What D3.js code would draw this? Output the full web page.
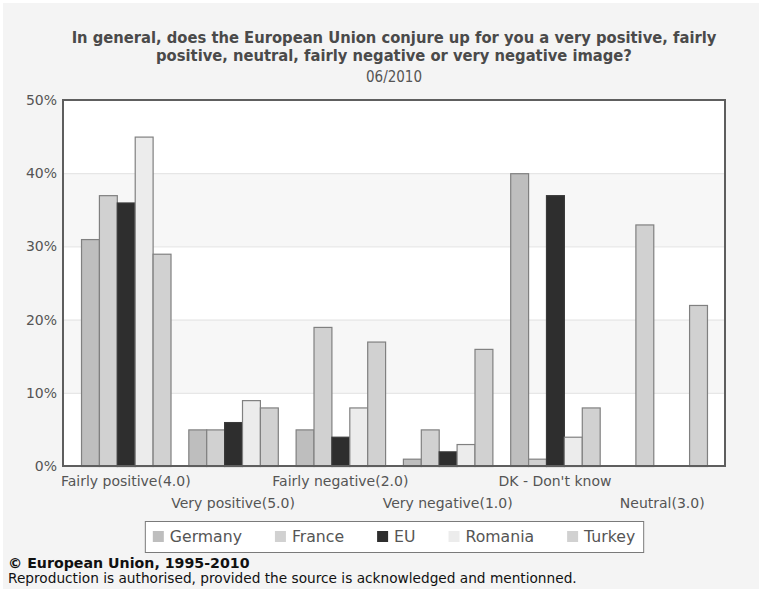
<!DOCTYPE html>
<html>
<head>
<meta charset="utf-8">
<script src="https://cdn.jsdelivr.net/npm/d3@7"></script>
<style>
  body { margin: 0; background: #fff; }
  svg { display: block; }
</style>
</head>
<body>
<svg id="chart" width="759" height="589"></svg>
<script>
// Eurobarometer answers, share of respondents (%)
const categories = ["Fairly positive(4.0)", "Very positive(5.0)", "Fairly negative(2.0)",
                    "Very negative(1.0)", "DK - Don't know", "Neutral(3.0)"];
const seriesNames = ["Germany", "France", "EU", "Romania", "Turkey"];
const germany = [31, 5, 5, 1, 40, null];
const france  = [37, 5, 19, 5, 1, 33];
const eu      = [36, 6, 4, 2, 37, null];
const romania = [45, 9, 8, 3, 4, null];
const turkey  = [29, 8, 17, 16, 8, 22];
const yTicks  = [0, 10, 20, 30, 40, 50];

const titleLines = ["In general, does the European Union conjure up for you a very positive, fairly",
                    "positive, neutral, fairly negative or very negative image?"];
const subtitle = "06/2010";
const credit = "\u00A9 European Union, 1995-2010";
const notice = "Reproduction is authorised, provided the source is acknowledged and mentionned.";

const seriesValues = [germany, france, eu, romania, turkey];
const fills = { Germany: "#bebebe", France: "#d1d1d1", EU: "#2e2e2e", Romania: "#ececec", Turkey: "#d1d1d1" };

const W = 759, H = 589;
const plot = { left: 63, right: 725, top: 100, bottom: 466 };
const sans = "'DejaVu Sans', Verdana, sans-serif";
const condensed = "'DejaVu Sans Condensed', 'DejaVu Sans', sans-serif";

const svg = d3.select("#chart");

// page background
svg.append("rect").attr("width", W).attr("height", H).attr("fill", "#fff");
svg.append("rect").attr("x", 3).attr("y", 3).attr("width", W - 3).attr("height", H - 3).attr("fill", "#f4f4f4");

const x0 = d3.scaleBand().domain(categories).range([plot.left, plot.right])
  .paddingInner(0.166).paddingOuter(0.168);
const x1 = d3.scaleBand().domain(seriesNames).range([0, x0.bandwidth()]);
const y = d3.scaleLinear().domain([0, 50]).range([plot.bottom, plot.top]);
const cx = (plot.left + plot.right) / 2;

// titles
const title = svg.append("g").attr("font-family", condensed)
  .attr("font-weight", "bold").attr("font-size", 16.4).attr("fill", "#4a4a4a").attr("text-anchor", "middle");
title.selectAll("text").data(titleLines).join("text")
  .attr("x", cx).attr("y", (d, i) => 43 + i * 18).text(d => d);
svg.append("text").attr("x", cx).attr("y", 82).attr("text-anchor", "middle")
  .attr("font-family", condensed)
  .attr("font-size", 15).attr("fill", "#555").text(subtitle);

// plot area with alternating bands
svg.append("rect").attr("x", plot.left).attr("y", plot.top)
  .attr("width", plot.right - plot.left).attr("height", plot.bottom - plot.top).attr("fill", "#fff");
const bandPairs = d3.pairs(yTicks);
svg.append("g").selectAll("rect").data(bandPairs.filter((d, i) => i % 2 === 1)).join("rect")
  .attr("x", plot.left).attr("width", plot.right - plot.left)
  .attr("y", d => y(d[1])).attr("height", d => y(d[0]) - y(d[1]))
  .attr("fill", "#f7f7f7");

// gridlines
svg.append("g").selectAll("line").data(yTicks.slice(1, -1)).join("line")
  .attr("x1", plot.left).attr("x2", plot.right)
  .attr("y1", d => y(d) + 0.5).attr("y2", d => y(d) + 0.5)
  .attr("stroke", "#e2e2e2").attr("stroke-width", 1);

// y axis labels
const yAxis = svg.append("g").attr("transform", `translate(${plot.left},0)`)
  .call(d3.axisLeft(y).tickValues(yTicks).tickFormat(d => d + "%").tickSize(0).tickPadding(6));
yAxis.select(".domain").remove();
yAxis.selectAll("text").attr("font-family", sans).attr("font-size", 14).attr("fill", "#555");

// bars
const groups = svg.append("g").selectAll("g").data(categories).join("g")
  .attr("transform", d => `translate(${x0(d)},0)`);
groups.selectAll("rect")
  .data((c, ci) => seriesNames.map((s, si) => ({ s, v: seriesValues[si][ci] })).filter(d => d.v != null))
  .join("rect")
  .attr("x", d => x1(d.s) + 0.5)
  .attr("y", d => y(d.v) + 0.5)
  .attr("width", x1.bandwidth())
  .attr("height", d => y(0) - y(d.v))
  .attr("fill", d => fills[d.s])
  .attr("stroke", d => d.s === "EU" ? "#3a3a3a" : "#808080")
  .attr("stroke-width", 1.2);

// x axis labels, staggered on two rows
const xAxis = svg.append("g").attr("transform", `translate(0,${plot.bottom})`)
  .call(d3.axisBottom(x0).tickSize(0));
xAxis.select(".domain").remove();
xAxis.selectAll("text")
  .attr("font-family", sans).attr("font-size", 14).attr("fill", "#555")
  .attr("dy", 0).attr("y", (d, i) => i % 2 === 0 ? 20 : 42);

// plot frame
svg.append("rect").attr("x", plot.left).attr("y", plot.top)
  .attr("width", plot.right - plot.left).attr("height", plot.bottom - plot.top)
  .attr("fill", "none").attr("stroke", "#5e5e5e").attr("stroke-width", 2);

// legend
const legend = svg.append("g");
const legendBox = legend.append("rect").attr("fill", "#fff").attr("stroke", "#7a7a7a").attr("stroke-width", 1);
const items = legend.selectAll("g").data(seriesNames).join("g");
items.append("rect").attr("width", 11).attr("height", 11).attr("fill", d => fills[d]);
items.append("text").attr("x", 17).attr("y", 10.5)
  .attr("font-family", sans).attr("font-size", 15.7).attr("fill", "#555").text(d => d);
const widths = [];
items.each(function () { widths.push(17 + this.querySelector("text").getComputedTextLength()); });
const gap = 33, pad = 8;
const total = d3.sum(widths) + gap * (widths.length - 1) + pad * 2;
const lx = cx - total / 2, ly = 521;
let acc = lx + pad;
items.attr("transform", (d, i) => { const t = `translate(${acc},${ly + 10})`; acc += widths[i] + gap; return t; });
legendBox.attr("x", lx + 0.5).attr("y", ly + 0.5).attr("width", total).attr("height", 31);

// credits
svg.append("text").attr("x", 8).attr("y", 568).attr("font-family", sans).attr("font-weight", "bold")
  .attr("font-size", 14.2).attr("fill", "#111").text(credit);
svg.append("text").attr("x", 8).attr("y", 583).attr("font-family", sans)
  .attr("font-size", 13.7).attr("fill", "#111").text(notice);
</script>
</body>
</html>
